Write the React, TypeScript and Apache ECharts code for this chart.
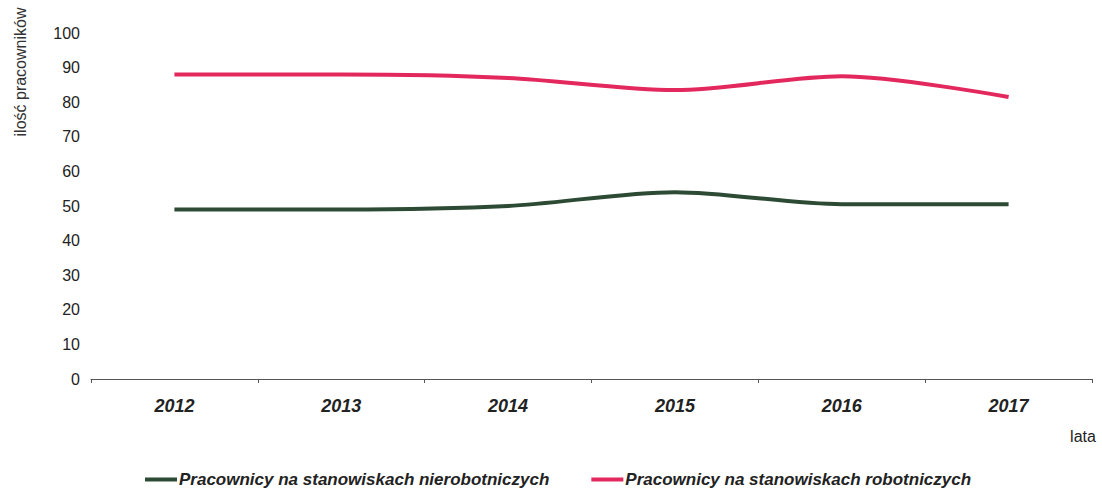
import React, { useEffect, useRef } from "react";
import * as echarts from "echarts";

const years = ["2012", "2013", "2014", "2015", "2016", "2017"];
const nierobotnicze = [49, 49, 50, 54, 50.5, 50.5];
const robotnicze = [88, 88, 87, 83.5, 87.5, 81.5];
const seriesNames = [
  "Pracownicy na stanowiskach nierobotniczych",
  "Pracownicy na stanowiskach robotniczych",
];
const yTitle = "ilość pracowników";
const xTitle = "lata";

export default function App() {
  const ref = useRef<HTMLDivElement>(null);
  useEffect(() => {
    if (!ref.current) return;
    const chart = echarts.init(ref.current, null, { renderer: "svg" });
    const font = "'Liberation Sans', Arial, sans-serif";
    chart.setOption({
      animation: false,
      backgroundColor: "#ffffff",
      textStyle: { fontFamily: font },
      grid: { left: 91, right: 10, top: 33, bottom: 114 },
      legend: {
        bottom: 0,
        left: 140,
        icon: "rect",
        itemWidth: 32,
        itemHeight: 4,
        itemGap: 42,
        textStyle: {
          fontFamily: font,
          fontSize: 17,
          fontStyle: "italic",
          fontWeight: "bold",
          color: "#222",
          padding: [0, 0, 0, -3],
        },
        data: seriesNames,
      },
      xAxis: {
        type: "category",
        data: years,
        boundaryGap: true,
        axisLine: { lineStyle: { color: "#555", width: 1 } },
        axisTick: { show: true, length: 4, lineStyle: { color: "#555" } },
        axisLabel: {
          margin: 18,
          fontSize: 18,
          fontStyle: "italic",
          fontWeight: "bold",
          color: "#222",
          fontFamily: font,
        },
        splitLine: { show: false },
      },
      yAxis: {
        type: "value",
        min: 0,
        max: 100,
        interval: 10,
        axisLine: { show: false },
        axisTick: { show: false },
        splitLine: { show: false },
        axisLabel: { margin: 11, fontSize: 16, color: "#222", fontFamily: font },
      },
      graphic: [
        {
          type: "text",
          x: 20,
          y: 72,
          rotation: Math.PI / 2,
          style: {
            text: yTitle,
            fontSize: 16,
            fontFamily: font,
            fill: "#333",
            align: "center",
            verticalAlign: "middle",
          },
        },
        {
          type: "text",
          x: 1083,
          y: 436,
          style: {
            text: xTitle,
            fontSize: 16,
            fontFamily: font,
            fill: "#222",
            align: "center",
            verticalAlign: "middle",
          },
        },
      ],
      series: [
        {
          name: seriesNames[0],
          type: "line",
          data: nierobotnicze,
          smooth: 0.3,
          symbol: "none",
          lineStyle: { color: "#2d4b34", width: 4 },
          itemStyle: { color: "#2d4b34" },
        },
        {
          name: seriesNames[1],
          type: "line",
          data: robotnicze,
          smooth: 0.3,
          symbol: "none",
          lineStyle: { color: "#e3285e", width: 4 },
          itemStyle: { color: "#e3285e" },
        },
      ],
    });
    return () => chart.dispose();
  }, []);
  return <div ref={ref} style={{ width: 1102, height: 493, position: "absolute", left: 0, top: 0 }} />;
}
